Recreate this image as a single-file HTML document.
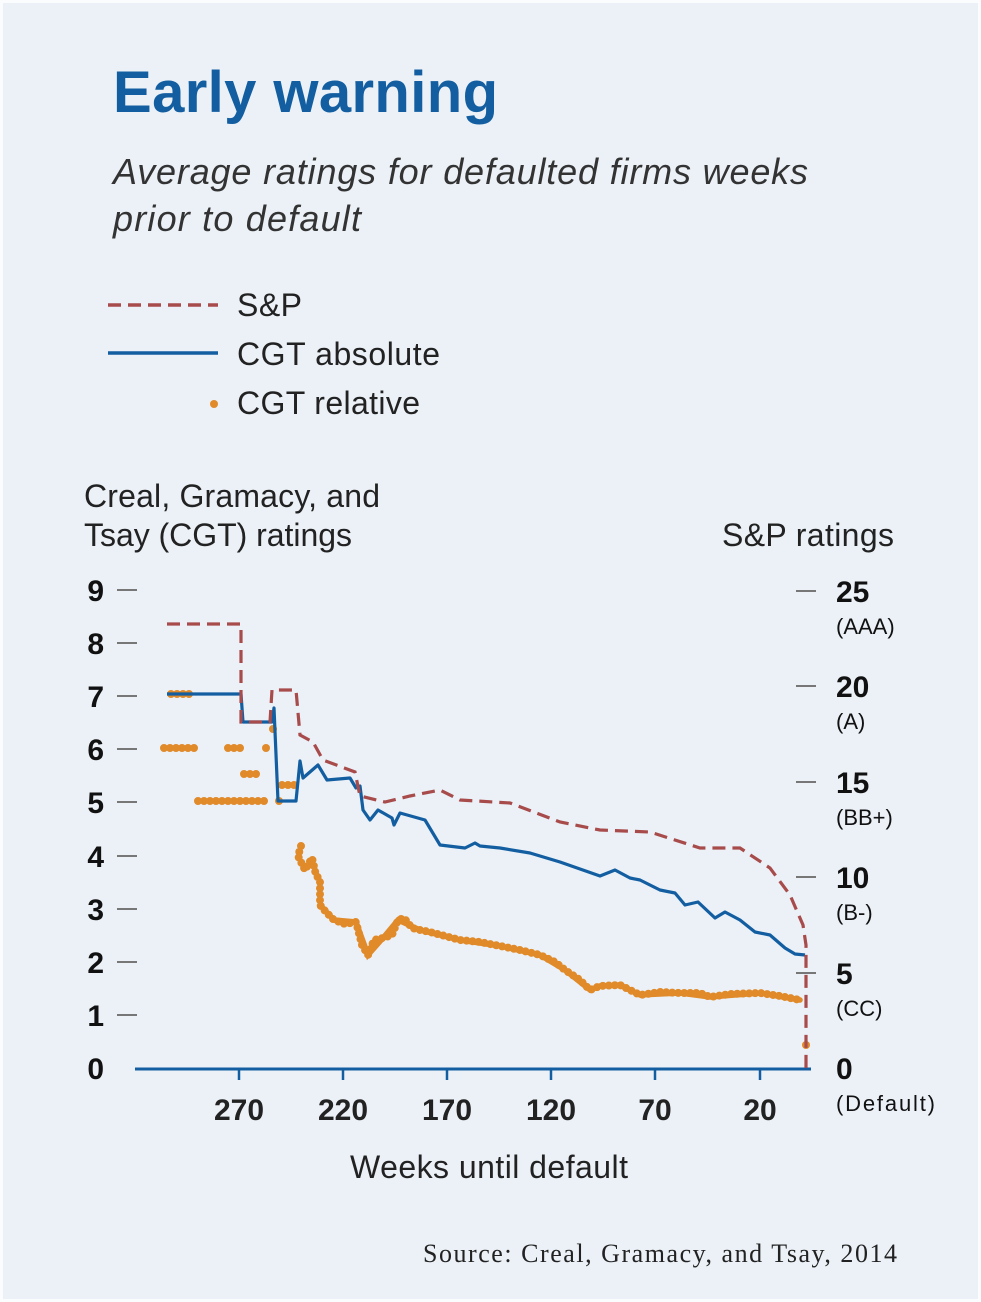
<!DOCTYPE html>
<html><head><style>
html,body{margin:0;padding:0;background:#fff;}
svg{display:block;}
</style></head><body>
<svg width="981" height="1302" viewBox="0 0 981 1302" xmlns="http://www.w3.org/2000/svg" font-family="Liberation Sans, sans-serif">
<rect x="0" y="0" width="981" height="1302" fill="#fbfcfd"/>
<rect x="3" y="3" width="975" height="1296" fill="#ebf1f7"/>
<text x="113" y="112" font-size="58" font-weight="bold" fill="#135ea1" textLength="385">Early warning</text>
<text x="113" y="184" font-size="36" font-style="italic" fill="#333" textLength="695">Average ratings for defaulted firms weeks</text>
<text x="113" y="231" font-size="36" font-style="italic" fill="#333" textLength="248">prior to default</text>
<line x1="108" y1="305" x2="218" y2="305" stroke="#a84b4b" stroke-width="3.5" stroke-dasharray="13 7"/>
<line x1="108" y1="353" x2="218" y2="353" stroke="#135ea1" stroke-width="3.5"/>
<circle cx="214" cy="404" r="4" fill="#e08a2a"/>
<g font-size="32" fill="#222">
<text x="237" y="316" textLength="65">S&amp;P</text>
<text x="237" y="365" textLength="203">CGT absolute</text>
<text x="237" y="414" textLength="183">CGT relative</text>
<text x="84" y="507" textLength="296">Creal, Gramacy, and</text>
<text x="84" y="546" textLength="268">Tsay (CGT) ratings</text>
<text x="722" y="546" textLength="172">S&amp;P ratings</text>
<text x="350" y="1178" textLength="278">Weeks until default</text>
</g>
<g stroke="#777" stroke-width="2">
<line x1="117" y1="590" x2="137" y2="590"/><line x1="117" y1="643" x2="137" y2="643"/>
<line x1="117" y1="696" x2="137" y2="696"/><line x1="117" y1="749" x2="137" y2="749"/>
<line x1="117" y1="802" x2="137" y2="802"/><line x1="117" y1="856" x2="137" y2="856"/>
<line x1="117" y1="909" x2="137" y2="909"/><line x1="117" y1="962" x2="137" y2="962"/>
<line x1="117" y1="1015" x2="137" y2="1015"/>
<line x1="796" y1="591" x2="816" y2="591"/><line x1="796" y1="686" x2="816" y2="686"/>
<line x1="796" y1="782" x2="816" y2="782"/><line x1="796" y1="877" x2="816" y2="877"/>
<line x1="796" y1="973" x2="816" y2="973"/>
</g>
<g font-size="30" font-weight="bold" fill="#111" text-anchor="end">
<text x="104" y="601">9</text><text x="104" y="654">8</text><text x="104" y="707">7</text>
<text x="104" y="760">6</text><text x="104" y="813">5</text><text x="104" y="867">4</text>
<text x="104" y="920">3</text><text x="104" y="973">2</text><text x="104" y="1026">1</text>
<text x="104" y="1079">0</text>
</g>
<g font-size="30" font-weight="bold" fill="#111">
<text x="836" y="602">25</text><text x="836" y="697">20</text><text x="836" y="793">15</text>
<text x="836" y="888">10</text><text x="836" y="984">5</text><text x="836" y="1079">0</text>
</g>
<g font-size="22" fill="#111">
<text x="836" y="634">(AAA)</text><text x="836" y="729">(A)</text><text x="836" y="825">(BB+)</text>
<text x="836" y="920">(B-)</text><text x="836" y="1016">(CC)</text><text x="836" y="1111" textLength="99">(Default)</text>
</g>
<g font-size="30" font-weight="bold" fill="#222" text-anchor="middle">
<text x="239" y="1120">270</text><text x="343" y="1120">220</text><text x="447" y="1120">170</text>
<text x="551" y="1120">120</text><text x="655" y="1120">70</text><text x="760" y="1120">20</text>
</g>
<line x1="135" y1="1069" x2="811" y2="1069" stroke="#135ea1" stroke-width="3"/>
<g stroke="#135ea1" stroke-width="2.5">
<line x1="239" y1="1069" x2="239" y2="1080"/><line x1="343" y1="1069" x2="343" y2="1080"/>
<line x1="447" y1="1069" x2="447" y2="1080"/><line x1="551" y1="1069" x2="551" y2="1080"/>
<line x1="655" y1="1069" x2="655" y2="1080"/><line x1="760" y1="1069" x2="760" y2="1080"/>
</g>
<!-- CGT relative -->
<g fill="none" stroke="#e08a2a" stroke-linecap="round">
<g stroke-width="8" stroke-dasharray="0 6">
<line x1="171" y1="694" x2="192" y2="694"/>
<line x1="164" y1="748" x2="198" y2="748"/>
<line x1="228" y1="748" x2="243" y2="748"/>
<line x1="266" y1="748" x2="272" y2="748"/>
<line x1="244" y1="774" x2="262" y2="774"/>
<line x1="198" y1="801" x2="265" y2="801"/>
<line x1="279" y1="801" x2="282" y2="801"/>
<line x1="282" y1="785" x2="298" y2="785"/>
<line x1="273" y1="729" x2="273" y2="730"/>
<polyline points="301,846 298,856 305,870 312,858 316,875 320,880 320,905 326,912 334,920 345,924 356,922 362,945 368,955 374,940 383,938 392,935 398,920 404,918 412,928 420,930 430,932 445,936 460,940 480,942 500,946 520,950 540,955 555,962 565,970 580,980 590,990 600,986 620,985 640,995 660,992 680,993 700,993 710,997 730,994 760,993 780,996 800,1000"/>
</g>
<polyline stroke-width="5.5" points="320,905 334,920 356,922 368,955 383,938 398,920 420,930 460,940 500,946 540,955 565,970 590,990 600,986 620,985 640,995 680,993 710,997 760,993 800,1000"/>
<circle cx="806" cy="1045" r="4" fill="#e08a2a" stroke="none"/>
</g>
<!-- CGT absolute -->
<polyline fill="none" stroke="#135ea1" stroke-width="3.2" stroke-linejoin="round" points="167,694 241,694 243,722 272,722 274,708 278,801 296,801 300,761 303,778 318,765 327,780 350,778 356,788 360,786 363,810 370,820 378,810 392,818 394,825 400,813 425,820 440,845 465,848 475,843 480,846 500,848 530,853 560,862 580,869 600,876 615,870 630,878 640,880 660,890 675,893 685,905 698,902 715,918 725,912 740,920 755,932 770,935 785,948 795,954 805,955"/>
<!-- S&P -->
<polyline fill="none" stroke="#a84b4b" stroke-width="3.2" stroke-dasharray="13 7" points="167,624 241,624 241,722 270,722 272,690 296,690 300,735 313,742 323,760 355,772 360,796 385,802 410,796 440,790 460,800 510,803 560,822 600,830 650,832 700,848 740,848 770,868 790,895 803,925 806,945 806,1068"/>
<text x="897" y="1262" text-anchor="end" font-family="Liberation Serif, serif" font-size="26" fill="#222" textLength="474">Source: Creal, Gramacy, and Tsay, 2014</text>
</svg>
</body></html>
